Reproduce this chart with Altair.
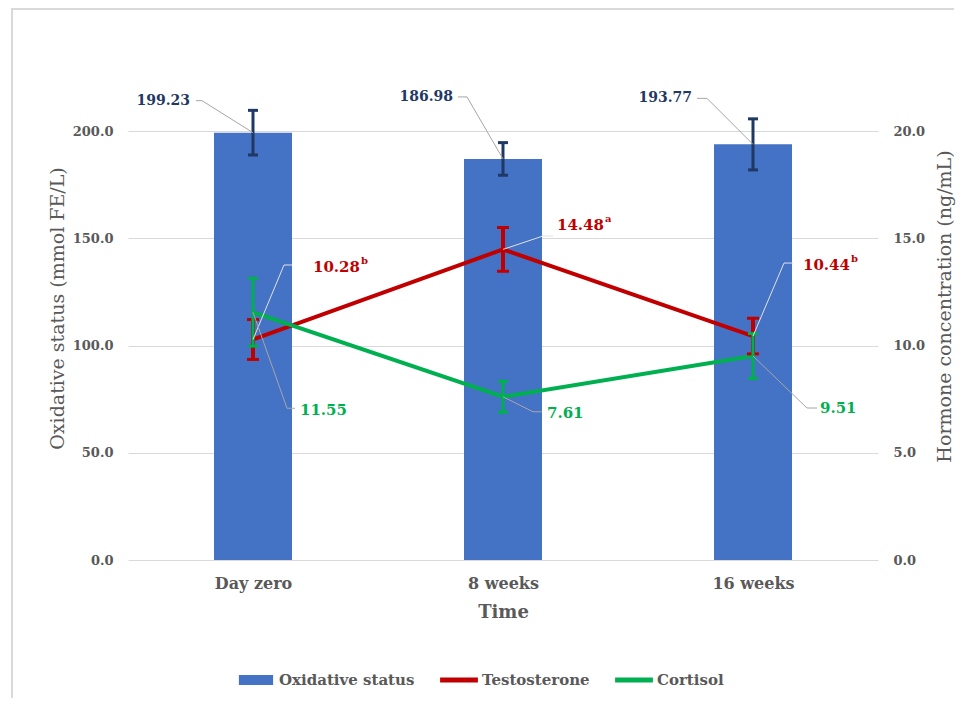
import json
import altair as alt
import pandas as pd

# ---------------- data ----------------
times = ["Day zero", "8 weeks", "16 weeks"]
oxidative = [199.23, 186.98, 193.77]
oxidative_err = [10.4, 7.6, 11.9]
testosterone = [10.28, 14.48, 10.44]
testosterone_err = [0.93, 1.02, 0.83]
testosterone_sup = ["b", "a", "b"]
cortisol = [11.55, 7.61, 9.51]
cortisol_err = [1.58, 0.72, 1.05]
series_names = ["Oxidative status", "Testosterone", "Cortisol"]
series_colors = ["#4472C4", "#C00000", "#00B050"]

# ---------------- styling ----------------
FONT = "DejaVu Serif"
GRAY = "#595959"
NAVY = "#1F3864"
RED = "#C00000"
GREEN = "#00B050"
GRID = "#D9D9D9"

ox_df = pd.DataFrame({"i": range(3), "time": times, "value": oxidative,
                      "err": oxidative_err, "series": series_names[0]})
ox_df["lo"] = ox_df["value"] - ox_df["err"]
ox_df["hi"] = ox_df["value"] + ox_df["err"]
ox_df["label"] = [f"{v:.2f}" for v in oxidative]

def hormone_df(vals, errs, name, sups=None):
    d = pd.DataFrame({"i": range(3), "time": times, "value": vals, "err": errs, "series": name})
    d["lo"] = d["value"] - d["err"]
    d["hi"] = d["value"] + d["err"]
    d["label"] = [f"{v:.2f}" for v in vals]
    d["sup"] = sups if sups else ["", "", ""]
    return d

te_df = hormone_df(testosterone, testosterone_err, series_names[1], testosterone_sup)
co_df = hormone_df(cortisol, cortisol_err, series_names[2])
hormones = pd.concat([te_df, co_df], ignore_index=True)

label_expr = json.dumps(times) + "[datum.value]"

x_axis = alt.Axis(values=[0, 1, 2], labelExpr=label_expr, title="Time", grid=False,
                  domain=False, ticks=False, labelPadding=15, titlePadding=12,
                  labelFont=FONT, labelFontSize=16, labelFontWeight="bold", labelColor=GRAY,
                  titleFont=FONT, titleFontSize=18, titleFontWeight="bold", titleColor=GRAY)
x_scale = alt.Scale(domain=[-0.5, 2.5], nice=False, zero=False, padding=0)

def X():
    return alt.X("i:Q", scale=x_scale, axis=x_axis)

def X2():
    return alt.X2("i")

left_axis = alt.Axis(values=[0, 50, 100, 150, 200], format=".1f", orient="left",
                     title="Oxidative status (mmol FE/L)", grid=True, gridColor=GRID, gridWidth=1,
                     domain=False, ticks=False, labelPadding=15,
                     labelFont=FONT, labelFontSize=13, labelFontWeight="bold", labelColor=GRAY,
                     titleFont=FONT, titleFontSize=19, titleFontWeight="normal", titleColor=GRAY,
                     titleAngle=270, titleX=-71, titleY=177, titleAlign="center", titleBaseline="middle")
left_scale = alt.Scale(domain=[0, 200], nice=False)

right_axis = alt.Axis(values=[0, 5, 10, 15, 20], format=".1f", orient="right",
                      title="Hormone concentration (ng/mL)", grid=False,
                      domain=False, ticks=False, labelPadding=15,
                      labelFont=FONT, labelFontSize=13, labelFontWeight="bold", labelColor=GRAY,
                      titleFont=FONT, titleFontSize=19, titleFontWeight="normal", titleColor=GRAY,
                      titleAngle=270, titleX=66, titleY=175, titleAlign="center", titleBaseline="middle")
right_scale = alt.Scale(domain=[0, 20], nice=False)

def YL(field):
    return alt.Y(f"{field}:Q", scale=left_scale, axis=left_axis)

def YR(field):
    return alt.Y(f"{field}:Q", scale=right_scale, axis=right_axis)

color_enc = alt.Color(
    "series:N",
    scale=alt.Scale(domain=series_names, range=series_colors),
    legend=alt.Legend(
        orient="none", legendX=110, legendY=531, direction="horizontal", title=None,
        symbolType=alt.ExprRef(expr="datum.value === 'Oxidative status' ? 'M-0.95,-0.28H0.95V0.28H-0.95Z' : 'M-1.05,-0.14H1.05V0.14H-1.05Z'"),
        symbolFillColor=alt.ExprRef(expr="scale('color', datum.value)"),
        symbolSize=1296, symbolStrokeWidth=0, symbolOpacity=1,
        labelFont=FONT, labelFontSize=15, labelFontWeight="bold", labelColor=GRAY,
        labelOffset=5, columnPadding=25, padding=0,
    ),
)

# ---------------- left (oxidative status) ----------------
border_v = alt.Chart(alt.Data(values=[{"a": 1}])).mark_rule(color=GRID, strokeWidth=2).encode(
    x=alt.value(-116), y=alt.value(-122), y2=alt.value(620))
border_h = alt.Chart(alt.Data(values=[{"a": 1}])).mark_rule(color=GRID, strokeWidth=2).encode(
    x=alt.value(-117), x2=alt.value(826), y=alt.value(-122))

bars = alt.Chart(ox_df).mark_bar(width=78, color=series_colors[0]).encode(
    x=X(), y=YL("value"), color=color_enc)
ox_rule = alt.Chart(ox_df).mark_rule(color=NAVY, strokeWidth=3).encode(
    x=X(), y=YL("lo"), y2="hi")
ox_cap_lo = alt.Chart(ox_df).mark_rule(color=NAVY, strokeWidth=3, xOffset=-5, x2Offset=5).encode(
    x=X(), x2=X2(), y=YL("lo"))
ox_cap_hi = alt.Chart(ox_df).mark_rule(color=NAVY, strokeWidth=3, xOffset=-5, x2Offset=5).encode(
    x=X(), x2=X2(), y=YL("hi"))

# leader layout: (elbow dx, elbow dy, end dx, text dx, text dy)
navy_layout = [(-51, -32, -57, -63, -31.5), (-36, -62, -45, -50, -61.5), (-46, -46, -56, -61, -46)]
red_layout = [(31, -74.5, 39, 60, -72.5), (40, -13.4, 50, 54, -24), (31, -73, 40, 50, -71)]
green_layout = [(34, 96, 42, 47, 98), (30, 15, 39, 44, 16), (54, 52, 64, 67, 52)]

def label_layers(df, k, lay, Y, color, lead_color, align, size, sup=False):
    edx, edy, endx, tdx, tdy = lay
    base = alt.Chart(df).transform_filter(alt.datum.i == k)
    diag = base.mark_rule(color=lead_color, strokeWidth=1, x2Offset=edx, y2Offset=edy).encode(
        x=X(), x2=X2(), y=Y("value"), y2=alt.Y2("value"))
    horiz = base.mark_rule(color=lead_color, strokeWidth=1, xOffset=edx, yOffset=edy,
                           x2Offset=endx, y2Offset=edy).encode(
        x=X(), x2=X2(), y=Y("value"), y2=alt.Y2("value"))
    txt = base.mark_text(align=align, baseline="middle", dx=tdx, dy=tdy, font=FONT,
                         fontSize=size, fontWeight="bold", color=color).encode(
        x=X(), y=Y("value"), text="label:N")
    out = [diag, horiz, txt]
    if sup:
        s = base.mark_text(align="left", baseline="middle", dx=tdx + 3.16 * size + 0.5, dy=tdy - 6,
                           font=FONT, fontSize=10, fontWeight="bold", color=color).encode(
            x=X(), y=Y("value"), text="sup:N")
        out.append(s)
    return out

navy_labels = []
for k in range(3):
    navy_labels += label_layers(ox_df, k, navy_layout[k], YL, NAVY, "#A6A6A6", "right", 14)

left = alt.layer(border_v, border_h, bars, ox_rule, ox_cap_lo, ox_cap_hi, *navy_labels)

# ---------------- right (hormones) ----------------
lines = alt.Chart(hormones).mark_line(strokeWidth=4).encode(
    x=X(), y=YR("value"), color=color_enc, detail="series:N")

def err_layers(df, color, width, half):
    r = alt.Chart(df).mark_rule(color=color, strokeWidth=width).encode(
        x=X(), y=YR("lo"), y2="hi")
    c1 = alt.Chart(df).mark_rule(color=color, strokeWidth=3, xOffset=-half, x2Offset=half).encode(
        x=X(), x2=X2(), y=YR("lo"))
    c2 = alt.Chart(df).mark_rule(color=color, strokeWidth=3, xOffset=-half, x2Offset=half).encode(
        x=X(), x2=X2(), y=YR("hi"))
    return [r, c1, c2]

hl = []
for k in range(3):
    hl += label_layers(te_df, k, red_layout[k], YR, RED, "#E2E2E2", "left", 15, sup=True)
    hl += label_layers(co_df, k, green_layout[k], YR, GREEN, "#A6A6A6", "left", 15)

right = alt.layer(lines, *err_layers(te_df, RED, 4, 6), *err_layers(co_df, GREEN, 3, 5), *hl)

chart = alt.layer(left, right).resolve_scale(y="independent").properties(
    width=750, height=429,
    autosize=alt.AutoSizeParams(type="none"),
    padding={"left": 120, "top": 123, "right": 84, "bottom": 138},
).configure_view(stroke=None)

chart.save("out.html", embed_options={"renderer": "svg", "actions": False})
